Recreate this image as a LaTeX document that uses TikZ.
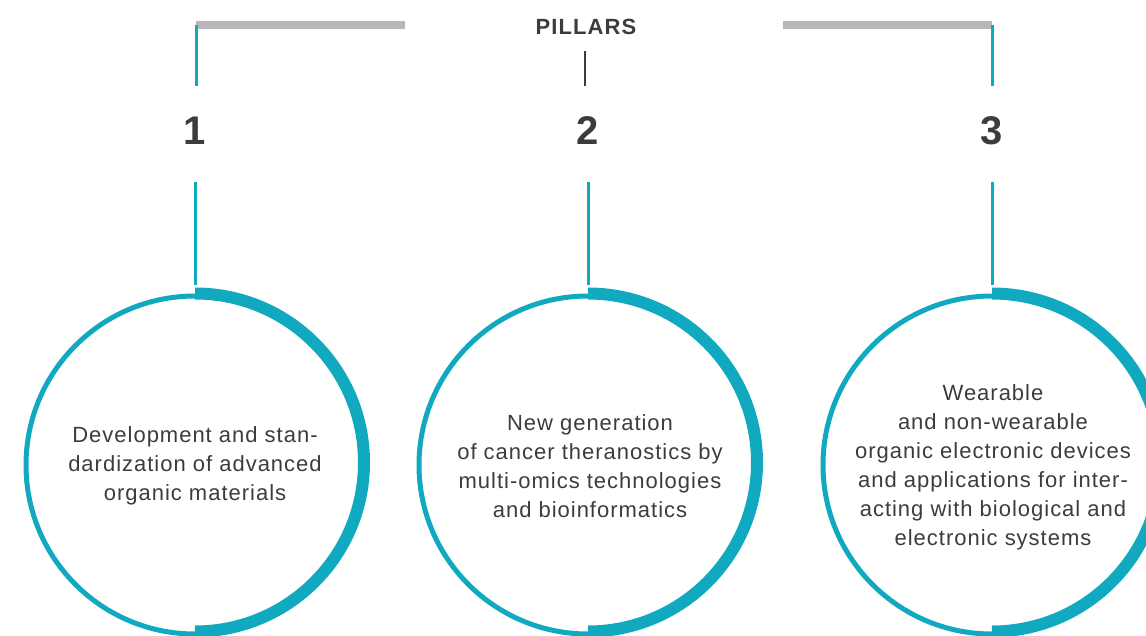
\documentclass[tikz,border=0pt]{standalone}
\usepackage{fontspec}
\setmainfont{Liberation Sans}
\definecolor{tealc}{HTML}{11A9BF}
\definecolor{bargray}{HTML}{B9B5BA}
\definecolor{txt}{HTML}{3C3C3C}
\begin{document}
\begin{tikzpicture}[x=1pt,y=-1pt,
  ring/.style={circle, draw=tealc, line width=5, inner sep=0, minimum size=338},
  thickarc/.style={draw=tealc, line width=12},
  tline/.style={draw=tealc, line width=3},
  gbar/.style={draw=bargray, line width=8},
  body/.style={text=txt, align=center, font=\fontsize{22}{29}\selectfont\addfontfeature{LetterSpace=4.5}},
  num/.style={text=txt, font=\fontsize{40}{40}\selectfont\bfseries},
  ttl/.style={text=txt, font=\fontsize{22}{22}\selectfont\bfseries\addfontfeature{LetterSpace=5}}]
\useasboundingbox (0,0) rectangle (1146,635);
\clip (0,0) rectangle (1146,635);
% title
\node[ttl] (title) at (586,27) {PILLARS};
\coordinate (tl0) at (585,51);
\coordinate (tl1) at (585,86);
\draw[txt, line width=1.5] (tl0) -- (tl1);
% top bars
\coordinate (b1a) at (196,25);
\coordinate (b1b) at (405,25);
\coordinate (b3a) at (783,25);
\coordinate (b3b) at (992,25);
\coordinate (v1) at (196,86);
\coordinate (v3) at (992,86);
\draw[gbar] (b1a) -- (b1b);
\draw[gbar] (b3a) -- (b3b);
\draw[tline] (b1a) -- (v1);
\draw[tline] (b3b) -- (v3);
% numbers
\node[num] (n1) at (195,131) {1};
\node[num] (n2) at (588,131) {2};
\node[num] (n3) at (992,131) {3};
% circles
\foreach \i/\x in {1/195,2/588,3/992}{
  \node[ring] (c\i) at (\x,465) {};
  \draw[thickarc] (c\i.north) arc[start angle=-90, end angle=90, radius=169];
  \draw[tline] ([yshift=-51]n\i.center) -- ([yshift=9]c\i.north);
}
% texts
\node[body] (t1) at (195,466) {Development and stan-\\dardization of advanced\\organic materials};
\node[body] (t2) at (590,466) {New generation\\of cancer theranostics by\\multi-omics technologies\\and bioinformatics};
\node[body] (t3) at (993,467) {Wearable\\and non-wearable\\organic electronic devices\\and applications for inter-\\acting with biological and\\electronic systems};
\end{tikzpicture}
\end{document}
